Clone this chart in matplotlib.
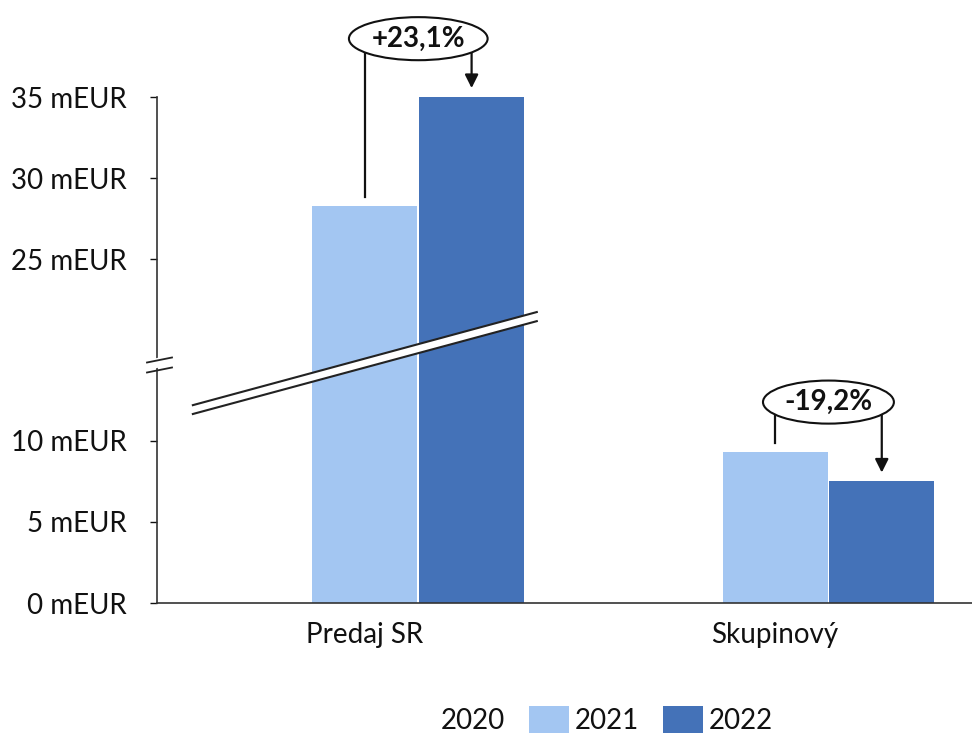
import numpy as np
import matplotlib
matplotlib.use('Agg')
import matplotlib.pyplot as plt
from matplotlib.patches import Polygon
from matplotlib.lines import Line2D

plt.rcParams['font.family'] = ['Lato', 'DejaVu Sans']

categories = ['Predaj SR', 'Skupinový']
years = ['2020', '2021', '2022']
values = {
    '2020': [0.0, 0.0],
    '2021': [28.3, 9.3],
    '2022': [35.0, 7.5],
}
change_labels = ['+23,1%', '-19,2%']
yticks = [0, 5, 10, 25, 30, 35]

colors = {'2020': 'white', '2021': '#A3C6F2', '2022': '#4472B8'}

# broken axis: values between 15 and 18.8 are squeezed out
yk = np.array([-1000.0, 15.0, 18.8, 1000.0])
dk = np.array([-1000.0, 15.0, 15.03, 1000.0 - 3.77])

def fwd(y):
    return np.interp(y, yk, dk)

def inv(d):
    return np.interp(d, dk, yk)

fig = plt.figure(figsize=(9.72, 7.36), dpi=100)
ax = fig.add_axes([157 / 972, (736 - 603) / 736, 815 / 972, 506 / 736])
ax.set_yscale('function', functions=(fwd, inv))

x = np.arange(len(categories))
w = 0.26
for i, yr in enumerate(years):
    ax.bar(x + (i - 1) * w, values[yr], width=w * 0.985, color=colors[yr],
           label=yr, zorder=2)

ax.set_xlim(-0.507, 1.48)
ax.set_ylim(0, 35)
ax.set_yticks(yticks)
ax.set_yticklabels(['%d mEUR' % t for t in yticks])
ax.set_xticks(x)
ax.set_xticklabels(categories)
ax.tick_params(axis='y', length=5, width=1, pad=17, labelsize=20, colors='#111111')
ax.tick_params(axis='x', length=0, pad=14, labelsize=20, colors='#111111')
for s in ['top', 'right']:
    ax.spines[s].set_visible(False)
for s in ['left', 'bottom']:
    ax.spines[s].set_color('#333333')
    ax.spines[s].set_linewidth(1.2)
ax.minorticks_off()

# change bubbles with connectors
bubble_y = [38.6, 12.4]
gap = 0.55
for i in range(len(categories)):
    v1 = values['2021'][i]
    v2 = values['2022'][i]
    ax.plot([x[i], x[i]], [bubble_y[i], v1 + gap], color='#111111', lw=1.6,
            clip_on=False, zorder=4)
    ax.annotate('', xy=(x[i] + w, v2 + gap), xytext=(x[i] + w, bubble_y[i]),
                arrowprops=dict(arrowstyle='-|>', color='#111111', lw=1.6,
                                mutation_scale=20, shrinkA=0, shrinkB=0),
                annotation_clip=False, zorder=4)
    ax.text(x[i] + w / 2, bubble_y[i], change_labels[i], ha='center', va='center',
            fontsize=20, fontweight='bold', color='#111111', zorder=6,
            bbox=dict(boxstyle='ellipse,pad=0.08', fc='white', ec='#111111', lw=1.5),
            clip_on=False)

# diagonal break band across the chart
tr = ax.transAxes
band = Polygon([(0.044, 0.3735), (0.466, 0.557), (0.466, 0.575), (0.044, 0.391)],
               closed=True, transform=tr, fc='white', ec='none', zorder=5)
ax.add_patch(band)
ax.add_line(Line2D([0.044, 0.466], [0.391, 0.575], transform=tr, color='#222222',
                   lw=1.5, zorder=5))
ax.add_line(Line2D([0.044, 0.466], [0.3735, 0.557], transform=tr, color='#222222',
                   lw=1.5, zorder=5))

# break mark on the y axis
px = 1 / 815
py = 1 / 506
yb = (603 - 365) / 506
cover = Polygon([(-10 * px, yb - 5 * py), (15 * px, yb), (15 * px, yb + 10 * py),
                 (-10 * px, yb + 5 * py)], closed=True, transform=tr, fc='white',
                ec='none', zorder=6, clip_on=False)
ax.add_patch(cover)
for dy in (-5, 5):
    ax.add_line(Line2D([-10 * px, 15 * px],
                       [yb + (dy - 2.5) * py, yb + (dy + 2.5) * py],
                       transform=tr, color='#222222', lw=1.3, zorder=7, clip_on=False))

leg = fig.legend(loc='center', bbox_to_anchor=(584 / 972, 1 - 720 / 736), ncol=3,
                 frameon=False, fontsize=20, handlelength=1.45, handleheight=1.1,
                 handletextpad=0.2, columnspacing=0.85)
for t in leg.get_texts():
    t.set_color('#111111')

fig.savefig('out.png', dpi=100)
